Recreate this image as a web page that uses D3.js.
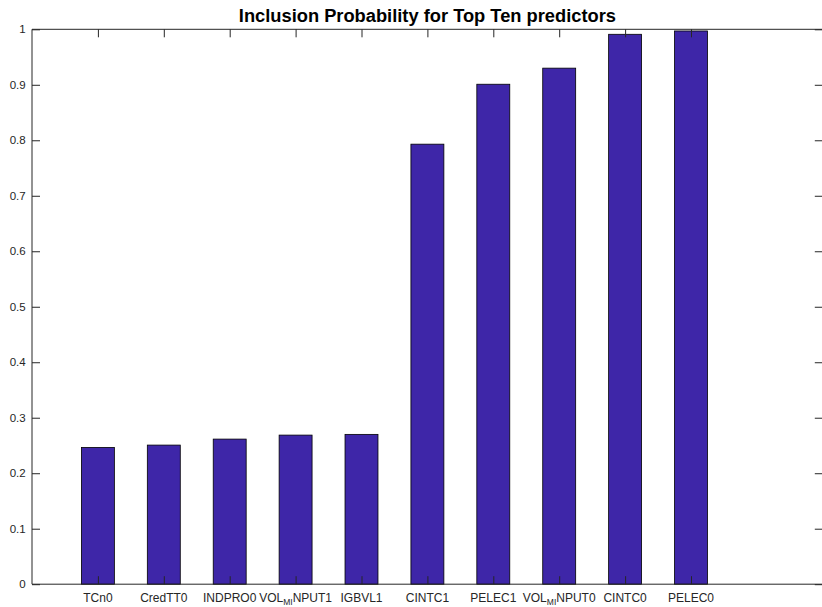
<!DOCTYPE html>
<html>
<head>
<meta charset="utf-8">
<script src="https://cdn.jsdelivr.net/npm/d3@7/dist/d3.min.js"></script>
<style>
  html, body { margin: 0; padding: 0; background: #fff; }
  svg { display: block; font-family: "Liberation Sans", Arial, Helvetica, sans-serif; }
</style>
</head>
<body>
<svg id="chart" width="822" height="607"></svg>
<script>
// Predictor names; "_" marks the start of a subscript run, "^" ends it
const predictors = ["TCn0", "CredTT0", "INDPRO0", "VOL_MI^NPUT1", "IGBVL1",
                    "CINTC1", "PELEC1", "VOL_MI^NPUT0", "CINTC0", "PELEC0"];
// Posterior inclusion probability of each predictor
const inclusionProb = [0.2465, 0.2507, 0.2615, 0.2687, 0.2700,
                       0.7930, 0.9010, 0.9300, 0.9910, 0.9970];
// Y axis tick values
const yTicks = [0, 0.1, 0.2, 0.3, 0.4, 0.5, 0.6, 0.7, 0.8, 0.9, 1];

const svg = d3.select("#chart");
const plotL = 32, plotR = 822.8, plotT = 29.3, plotB = 584.2;
const axisColor = "#262626";
const barColor = "#3e26a8";

const x = d3.scaleLinear().domain([0, predictors.length + 2]).range([plotL, plotR]);
const y = d3.scaleLinear().domain([0, 1]).range([plotB, plotT]);
const barW = x(0.5) - x(0);

// Bars
svg.append("g").selectAll("rect")
  .data(inclusionProb)
  .join("rect")
  .attr("x", (d, i) => x(i + 1) - barW / 2)
  .attr("y", d => y(d))
  .attr("width", barW)
  .attr("height", d => y(0) - y(d))
  .attr("fill", barColor)
  .attr("stroke", "#000")
  .attr("stroke-width", 0.8);

// Axis box
const box = svg.append("g").attr("stroke", axisColor).attr("stroke-width", 1).attr("fill", "none");
box.append("line").attr("x1", plotL).attr("x2", plotL).attr("y1", plotT).attr("y2", plotB);
box.append("line").attr("x1", plotL).attr("x2", plotR).attr("y1", plotB).attr("y2", plotB);
box.append("line").attr("x1", plotL).attr("x2", plotR).attr("y1", plotT).attr("y2", plotT);
box.append("line").attr("x1", plotR).attr("x2", plotR).attr("y1", plotT).attr("y2", plotB);

// Y ticks, drawn inward on both sides
const tickLen = 8;
const yAxisL = d3.axisLeft(y).tickValues(yTicks).tickSizeInner(-tickLen).tickSizeOuter(0)
  .tickPadding(6.3).tickFormat(d3.format("~g"));
const gy = svg.append("g").attr("transform", `translate(${plotL},0)`).call(yAxisL);
gy.select(".domain").remove();
gy.selectAll(".tick line").attr("stroke", axisColor);
gy.selectAll(".tick text").attr("fill", "#262626").attr("font-size", "11.5px")
  .attr("font-family", "Liberation Sans, Arial, sans-serif");

const yAxisR = d3.axisRight(y).tickValues(yTicks).tickSizeInner(-tickLen).tickSizeOuter(0).tickFormat("");
const gyr = svg.append("g").attr("transform", `translate(${plotR},0)`).call(yAxisR);
gyr.select(".domain").remove();
gyr.selectAll(".tick line").attr("stroke", axisColor);

// X ticks at each category, top and bottom, inward
const xTickVals = d3.range(1, predictors.length + 1);
const xAxisB = d3.axisBottom(x).tickValues(xTickVals).tickSizeInner(-tickLen).tickSizeOuter(0).tickFormat("");
const gxb = svg.append("g").attr("transform", `translate(0,${plotB})`).call(xAxisB);
gxb.select(".domain").remove();
gxb.selectAll(".tick line").attr("stroke", axisColor);

const xAxisT = d3.axisTop(x).tickValues(xTickVals).tickSizeInner(-tickLen).tickSizeOuter(0).tickFormat("");
const gxt = svg.append("g").attr("transform", `translate(0,${plotT})`).call(xAxisT);
gxt.select(".domain").remove();
gxt.selectAll(".tick line").attr("stroke", axisColor);

// Category labels with optional subscript segments
const labels = svg.append("g")
  .attr("font-size", "12px")
  .attr("fill", "#262626")
  .attr("text-anchor", "middle");
predictors.forEach((name, i) => {
  const t = labels.append("text").attr("x", x(i + 1)).attr("y", 601.5);
  const parts = name.split(/(_[^^]*\^)/).filter(s => s.length);
  parts.forEach(p => {
    if (p.startsWith("_")) {
      t.append("tspan").text(p.slice(1, -1))
        .attr("font-size", "8.5px").attr("dy", 3.8);
    } else {
      const s = t.append("tspan").text(p);
      if (t.selectAll("tspan").size() > 1) s.attr("dy", -3.8);
    }
  });
});

// Title
svg.append("text")
  .attr("x", (plotL + plotR) / 2)
  .attr("y", 22)
  .attr("text-anchor", "middle")
  .attr("font-size", "18.3px")
  .attr("font-weight", "bold")
  .attr("fill", "#000")
  .text("Inclusion Probability for Top Ten predictors");
</script>
</body>
</html>
